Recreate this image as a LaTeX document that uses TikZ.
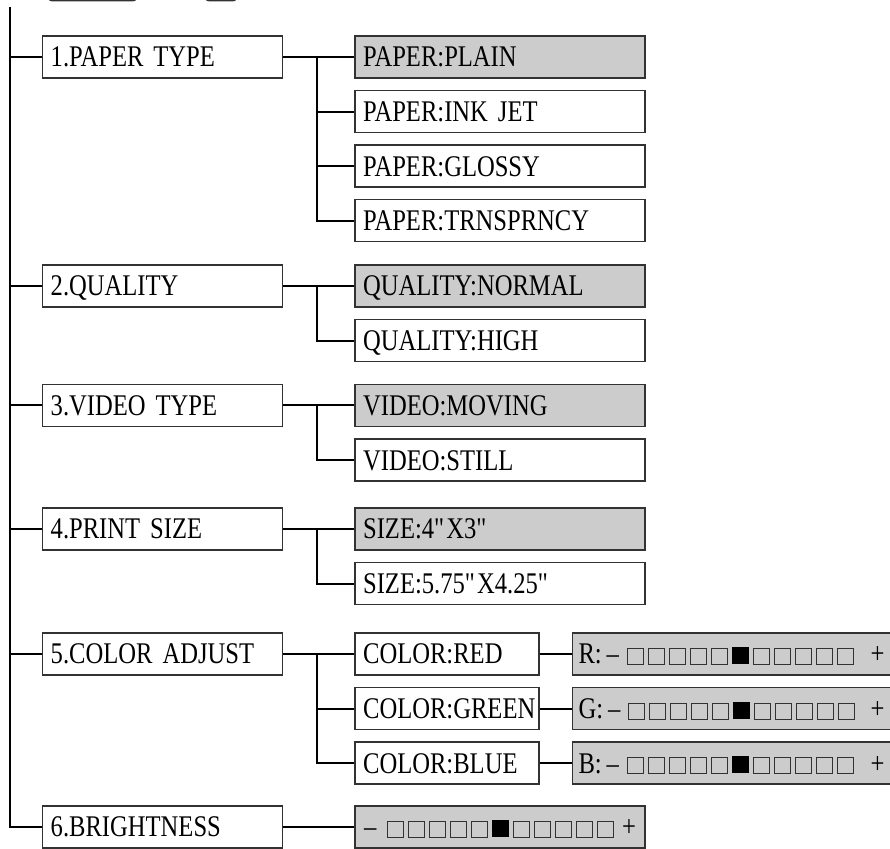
\documentclass[tikz,border=0pt]{standalone}
\usepackage{fontspec}
\setmainfont{Liberation Serif}[FakeStretch=0.82, WordSpace=0.6]
\usetikzlibrary{positioning}
\definecolor{selgray}{RGB}{204,204,204}
\definecolor{edge}{RGB}{50,50,50}

% squares of the level bar
\newcommand{\osq}{{\setlength{\fboxsep}{0pt}\setlength{\fboxrule}{0.5pt}\color{edge}\fbox{\rule{0pt}{7.5pt}\rule{7.5pt}{0pt}}}}
\newcommand{\fsq}{\rule{8.5pt}{8.5pt}}
\newcommand{\fivesq}{\osq\hspace{2pt}\osq\hspace{2pt}\osq\hspace{2pt}\osq\hspace{2pt}\osq}
\newcommand{\levelbar}{\fivesq\hspace{2pt}\fsq\hspace{2pt}\fivesq}

\begin{document}
\begin{tikzpicture}[
        x=0.5pt, y=-0.5pt,
        node distance=5.6pt and 35.5pt,
        menubox/.style={rectangle, draw=edge, line width=0.7pt,
                        minimum height=21pt, inner xsep=4pt, inner ysep=0pt,
                        text height=12pt, text depth=2pt, align=left,
                        font=\fontsize{15}{18}\selectfont},
        topitem/.style={menubox, text width=112pt},
        choice/.style={menubox, text width=137pt},
        colitem/.style={menubox, text width=84pt},
        slider/.style={menubox, fill=selgray, inner xsep=3pt, text width=153pt},
        keycap/.style={draw=edge, line width=0.9pt, rounded corners=3pt,
                       minimum height=20pt, anchor=south},
        wire/.style={line width=1pt},
    ]
        \clip (0,0) rectangle (890,849);

        % cut-off keys above the menu
        \node[keycap, minimum width=45.5pt] (menukey) at (92.5,1.5) {};
        \node[keycap, minimum width=17pt] (upkey) at (221,1.5) {};

        % first level
        \node[topitem, anchor=west] (paper) at (42,57) {1.PAPER TYPE};
        \node[topitem, anchor=west] (quality) at (42,286) {2.QUALITY};
        \node[topitem, anchor=west] (video) at (42,405.5) {3.VIDEO TYPE};
        \node[topitem, anchor=west] (size) at (42,529) {4.PRINT SIZE};
        \node[topitem, anchor=west] (color) at (42,654) {5.COLOR ADJUST};
        \node[topitem, anchor=west] (bright) at (42,827) {6.BRIGHTNESS};

        % second level
        \node[choice, fill=selgray, right=of paper] (plain) {PAPER:PLAIN};
        \node[choice, below=of plain] (inkjet) {PAPER:INK JET};
        \node[choice, below=of inkjet] (glossy) {PAPER:GLOSSY};
        \node[choice, below=of glossy] (trnsp) {PAPER:TRNSPRNCY};

        \node[choice, fill=selgray, right=of quality] (normal) {QUALITY:NORMAL};
        \node[choice, below=of normal] (high) {QUALITY:HIGH};

        \node[choice, fill=selgray, right=of video] (moving) {VIDEO:MOVING};
        \node[choice, below=of moving] (still) {VIDEO:STILL};

        \node[choice, fill=selgray, right=of size] (small) {SIZE:4\textquotedbl X3\textquotedbl};
        \node[choice, below=of small] (large) {SIZE:5.75\textquotedbl X4.25\textquotedbl};

        \node[colitem, right=of color] (red) {COLOR:RED};
        \node[colitem, below=of red] (green) {COLOR:GREEN};
        \node[colitem, below=of green] (blue) {COLOR:BLUE};

        % level bars
        \node[slider, right=16pt of red] (rbar) {R:\,\textendash\hspace{4pt}\levelbar\hfill+};
        \node[slider, right=16pt of green] (gbar) {G:\,\textendash\hspace{4pt}\levelbar\hfill+};
        \node[slider, right=16pt of blue] (bbar) {B:\,\textendash\hspace{4pt}\levelbar\hfill+};
        \node[slider, inner xsep=4.5pt, text width=136pt, right=of bright] (lbar) {\textendash\hspace{5.5pt}\levelbar\hfill+};

        % spine
        \coordinate (spine) at (10,7);
        \draw[wire] (spine) |- (bright.west);
        \foreach \n in {paper,quality,video,size,color}
            \draw[wire] (spine |- \n.west) -- (\n.west);

        % branches
        \draw[wire] (paper.east) -- (plain.west);
        \foreach \n in {inkjet,glossy,trnsp}
            \draw[wire] ([xshift=17pt]paper.east) |- (\n.west);
        \draw[wire] (quality.east) -- (normal.west);
        \draw[wire] ([xshift=17pt]quality.east) |- (high.west);
        \draw[wire] (video.east) -- (moving.west);
        \draw[wire] ([xshift=17pt]video.east) |- (still.west);
        \draw[wire] (size.east) -- (small.west);
        \draw[wire] ([xshift=17pt]size.east) |- (large.west);
        \draw[wire] (color.east) -- (red.west);
        \foreach \n in {green,blue}
            \draw[wire] ([xshift=17pt]color.east) |- (\n.west);
        \draw[wire] (red.east) -- (rbar.west);
        \draw[wire] (green.east) -- (gbar.west);
        \draw[wire] (blue.east) -- (bbar.west);
        \draw[wire] (bright.east) -- (lbar.west);
    \end{tikzpicture}
\end{document}
